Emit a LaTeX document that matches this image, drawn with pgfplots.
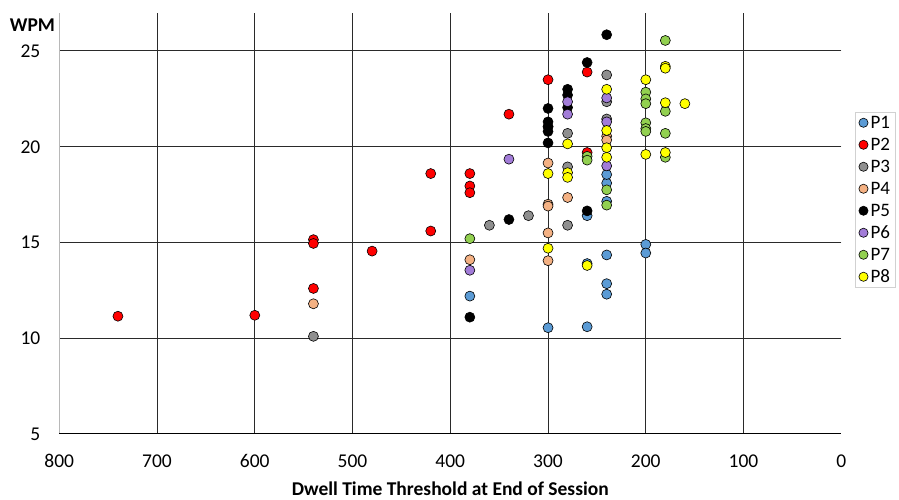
\documentclass[border=0pt]{standalone}
\usepackage{pgfplots}
\pgfplotsset{compat=1.18}
\usepackage{fontspec}
\setmainfont{Carlito}
\definecolor{cP1}{HTML}{5B9BD5}
\definecolor{cP2}{HTML}{FF0000}
\definecolor{cP3}{HTML}{8F8F8F}
\definecolor{cP4}{HTML}{F4B183}
\definecolor{cP5}{HTML}{000000}
\definecolor{cP6}{HTML}{A27CD8}
\definecolor{cP7}{HTML}{92D050}
\definecolor{cP8}{HTML}{FFFF00}
\definecolor{gridc}{HTML}{2A2A2A}
\pgfplotsset{
  pt/.style={only marks, mark=*, mark size=5pt, mark options={draw=black, line width=0.6pt, fill=#1}},
}
\begin{document}
\begin{tikzpicture}
\path[use as bounding box] (-59.3pt,-66pt) rectangle (839.7pt,434pt);
\begin{axis}[
  name=ax, at={(0pt,0pt)}, anchor=south west,
  scale only axis, width=782pt, height=421.3pt,
  xmin=0, xmax=800, ymin=5, ymax=27, x dir=reverse,
  enlargelimits=false,
  axis line style={draw=none},
  major tick length=0pt, tick style={draw=none},
  xtick={100,200,...,700}, ytick={10,15,20,25},
  extra x ticks={0,800}, extra y ticks={5},
  extra x tick style={xmajorgrids=false},
  extra y tick style={ymajorgrids=false},
  xmajorgrids=true, ymajorgrids=true,
  grid style={gridc, line width=1pt},
  /pgf/number format/assume math mode=true,
  ticklabel style={font=\fontsize{19.5}{20}\selectfont},
  xticklabel style={anchor=center, inner sep=0pt, yshift=-27pt},
  yticklabel style={anchor=east, inner sep=0pt, xshift=-18.8pt},
  legend style={at={(rel axis cs:1.0175,0.764)}, anchor=north west,
    draw=black!18, line width=0.8pt, font=\fontsize{19}{19}\selectfont,
    inner xsep=3.5pt, inner ysep=1.5pt, row sep=4.5pt, column sep=1pt,
    nodes={inner sep=1.5pt, text height=12.5pt, text depth=2pt}},
  legend cell align=left,
  legend image code/.code={\draw[mark size=4.6pt] plot coordinates {(0pt,0pt)};},
]
\addplot[pt=cP1] coordinates {(380,12.2) (300,10.55) (260,10.6) (260,13.9) (260,16.4) (240,14.35) (240,12.85) (240,12.3) (240,17.15) (240,18.1) (240,18.55) (200,14.9) (200,14.45)};
\addlegendentry{P1}
\addplot[pt=cP2] coordinates {(740,11.15) (600,11.2) (540,15.15) (540,14.95) (540,12.6) (480,14.55) (420,18.6) (420,15.6) (380,18.6) (380,17.95) (380,17.6) (340,21.7) (300,23.5) (300,21.05) (260,23.9) (260,19.7)};
\addlegendentry{P2}
\addplot[pt=cP3] coordinates {(540,10.1) (360,15.9) (320,16.4) (280,15.9) (280,18.95) (280,20.7) (240,23.75) (240,22.35) (240,21.45)};
\addlegendentry{P3}
\addplot[pt=cP4] coordinates {(540,11.8) (380,14.1) (300,19.15) (300,17.0) (300,16.9) (300,15.5) (300,14.05) (280,17.35) (240,20.55) (240,20.35)};
\addlegendentry{P4}
\addplot[pt=cP5] coordinates {(380,11.1) (340,16.2) (300,22.0) (300,21.3) (300,21.05) (300,20.8) (300,20.2) (280,23.0) (280,22.7) (280,22.05) (260,24.4) (260,16.65) (240,25.85)};
\addlegendentry{P5}
\addplot[pt=cP6] coordinates {(380,13.55) (340,19.35) (280,22.35) (280,21.7) (240,22.55) (240,21.3) (240,19.0)};
\addlegendentry{P6}
\addplot[pt=cP7] coordinates {(380,15.2) (260,19.5) (260,19.3) (240,17.75) (240,16.95) (200,22.85) (200,22.5) (200,22.25) (200,21.25) (200,20.95) (200,20.8) (180,25.55) (180,21.85) (180,20.7) (180,19.45)};
\addlegendentry{P7}
\addplot[pt=cP8] coordinates {(300,18.6) (300,14.7) (280,20.15) (280,18.65) (280,18.4) (260,13.8) (240,23.0) (240,20.85) (240,19.95) (240,19.45) (200,23.5) (200,19.6) (180,24.2) (180,24.1) (180,22.3) (180,19.7) (160,22.25)};
\addlegendentry{P8}
\end{axis}
\draw[black!28, line width=1pt] (ax.south west) -- (ax.north west);
\draw[black, line width=1pt] (ax.south west) -- (ax.south east);
\node[font=\bfseries\fontsize{19.5}{20}\selectfont] at ([xshift=-26.8pt,yshift=-12.8pt]ax.north west) {WPM};
\node[font=\bfseries\fontsize{19.5}{20}\selectfont] at ([yshift=-55pt]ax.south) {Dwell Time Threshold at End of Session};
\end{tikzpicture}
\end{document}
